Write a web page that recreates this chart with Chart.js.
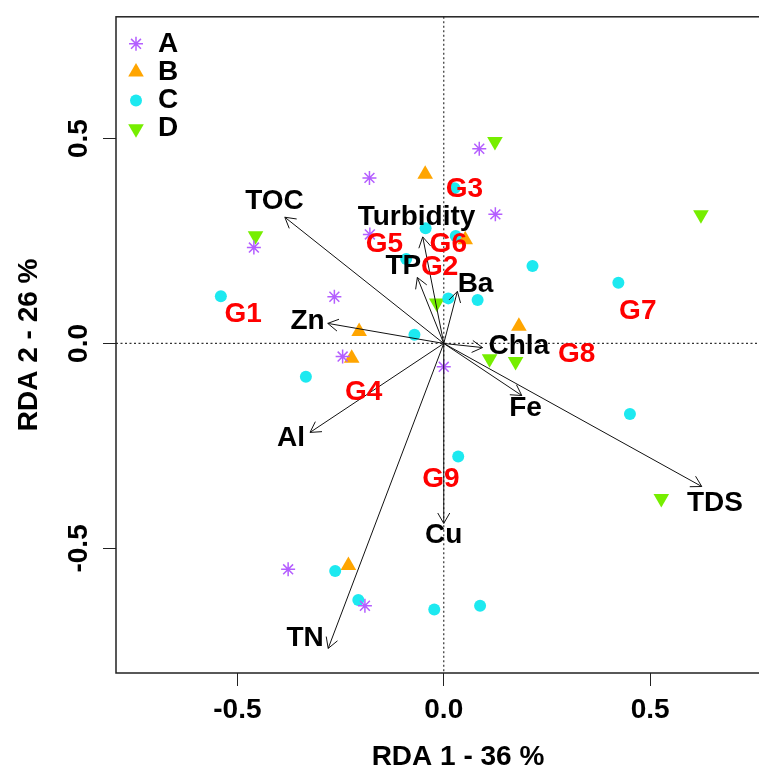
<!DOCTYPE html>
<html>
<head>
<meta charset="utf-8">
<script src="https://cdn.jsdelivr.net/npm/chart.js@4.4.1/dist/chart.umd.min.js"></script>
<style>
  html, body { margin: 0; padding: 0; background: #fff; overflow: hidden; }
  #wrap { width: 810px; height: 774px; }
</style>
</head>
<body>
<div id="wrap"><canvas id="rda" width="810" height="774"></canvas></div>
<script>
// site scores per group (RDA1, RDA2)
const groups = ['A', 'B', 'C', 'D'];
const aX = [0.086, -0.180, 0.125, -0.179, -0.460, -0.265, -0.245, 0.000, -0.377, -0.191];
const aY = [0.475, 0.404, 0.315, 0.266, 0.234, 0.114, -0.032, -0.057, -0.551, -0.640];
const bX = [-0.045, 0.052, -0.205, -0.223, 0.182, -0.231];
const bY = [0.413, 0.253, 0.029, -0.036, 0.042, -0.542];
const cX = [0.026, -0.044, 0.029, -0.091, 0.215, -0.540, 0.011, 0.082, -0.071, -0.334, 0.423, 0.451, 0.035, -0.263, -0.207, -0.023, 0.088];
const cY = [0.379, 0.281, 0.262, 0.206, 0.189, 0.115, 0.110, 0.106, 0.021, -0.081, 0.148, -0.172, -0.276, -0.555, -0.626, -0.649, -0.640];
const dX = [0.124, -0.456, -0.017, 0.111, 0.174, 0.623, 0.527];
const dY = [0.493, 0.263, 0.099, -0.037, -0.044, 0.314, -0.378];

// environmental arrows (tip) and where their names sit
const envNames = ['TOC', 'Zn', 'Turbidity', 'TP', 'Ba', 'Chla', 'Fe', 'TDS', 'Cu', 'TN', 'Al'];
const envX = [-0.385, -0.281, -0.051, -0.064, 0.033, 0.094, 0.189, 0.625, 0.000, -0.280, -0.324];
const envY = [0.308, 0.049, 0.260, 0.161, 0.127, -0.010, -0.127, -0.349, -0.439, -0.744, -0.217];
const envLabelX = [-0.410, -0.330, -0.066, -0.098, 0.077, 0.182, 0.198, 0.657, 0.000, -0.336, -0.370];
const envLabelY = [0.346, 0.054, 0.309, 0.189, 0.145, -0.006, -0.158, -0.391, -0.468, -0.720, -0.232];

// cluster labels
const clusterNames = ['G1', 'G2', 'G3', 'G4', 'G5', 'G6', 'G7', 'G8', 'G9'];
const clusterX = [-0.486, -0.010, 0.050, -0.194, -0.144, 0.011, 0.470, 0.322, -0.007];
const clusterY = [0.071, 0.185, 0.375, -0.118, 0.243, 0.243, 0.078, -0.027, -0.332];

const xTicks = [-0.5, 0, 0.5];
const yTicks = [-0.5, 0, 0.5];

const FONT = 'Liberation Sans, Arial, Helvetica, sans-serif';
Chart.defaults.font.family = FONT;

function pts(xs, ys) {
  return xs.map((v, i) => ({ x: v, y: ys[i] }));
}

function series(label, xs, ys, color, style, radius, rotation) {
  return {
    label,
    data: pts(xs, ys),
    pointStyle: style,
    pointRadius: radius,
    pointRotation: rotation,
    backgroundColor: color,
    borderColor: color,
    borderWidth: style === 'star' ? 1.5 : 0,
    pointHoverRadius: radius
  };
}

function marker(ctx, ds, x, y) {
  ctx.save();
  ctx.fillStyle = ds.backgroundColor;
  ctx.strokeStyle = ds.borderColor;
  ctx.lineWidth = ds.borderWidth;
  Chart.helpers.drawPoint(ctx, {
    pointStyle: ds.pointStyle,
    radius: ds.pointRadius,
    rotation: ds.pointRotation,
    borderWidth: ds.borderWidth
  }, x, y);
  ctx.restore();
}

const rdaOverlay = {
  id: 'rdaOverlay',
  beforeDatasetsDraw(chart) {
    const { ctx, chartArea: a, scales: { x, y } } = chart;
    const x0 = x.getPixelForValue(0), y0 = y.getPixelForValue(0);
    ctx.save();
    ctx.strokeStyle = '#333';
    ctx.lineWidth = 1.2;
    ctx.setLineDash([2, 2.5]);
    ctx.beginPath();
    ctx.moveTo(a.left, y0); ctx.lineTo(a.right, y0);
    ctx.moveTo(x0, a.top); ctx.lineTo(x0, a.bottom);
    ctx.stroke();
    ctx.restore();
  },
  afterDatasetsDraw(chart) {
    const { ctx, scales: { x, y } } = chart;
    const x0 = x.getPixelForValue(0), y0 = y.getPixelForValue(0);
    ctx.save();
    // arrows
    ctx.strokeStyle = '#111';
    ctx.lineWidth = 1;
    envNames.forEach((n, i) => {
      const tx = x.getPixelForValue(envX[i]), ty = y.getPixelForValue(envY[i]);
      const ang = Math.atan2(ty - y0, tx - x0);
      const head = 12;
      ctx.beginPath();
      ctx.moveTo(x0, y0);
      ctx.lineTo(tx, ty);
      ctx.moveTo(tx - head * Math.cos(ang - Math.PI / 6), ty - head * Math.sin(ang - Math.PI / 6));
      ctx.lineTo(tx, ty);
      ctx.lineTo(tx - head * Math.cos(ang + Math.PI / 6), ty - head * Math.sin(ang + Math.PI / 6));
      ctx.stroke();
    });
    ctx.font = 'bold 28px ' + FONT;
    ctx.textAlign = 'center';
    ctx.textBaseline = 'middle';
    ctx.fillStyle = '#000';
    envNames.forEach((n, i) => {
      ctx.fillText(n, x.getPixelForValue(envLabelX[i]), y.getPixelForValue(envLabelY[i]));
    });
    ctx.fillStyle = '#FF0000';
    clusterNames.forEach((n, i) => {
      ctx.fillText(n, x.getPixelForValue(clusterX[i]), y.getPixelForValue(clusterY[i]));
    });
    ctx.restore();
  },
  afterDraw(chart) {
    const { ctx, chartArea: a } = chart;
    ctx.save();
    // plot box
    ctx.strokeStyle = '#222';
    ctx.lineWidth = 1.5;
    ctx.strokeRect(a.left, a.top, a.right - a.left, a.bottom - a.top);
    // legend, top left inside the box
    ctx.font = 'bold 28px ' + FONT;
    ctx.textAlign = 'left';
    ctx.textBaseline = 'middle';
    chart.data.datasets.forEach((ds, i) => {
      const ry = a.top + 27 + i * 28.3;
      marker(ctx, ds, a.left + 20, ry);
      ctx.fillStyle = '#000';
      ctx.fillText(ds.label, a.left + 42, ry);
    });
    ctx.restore();
  }
};

const axisFont = { size: 28, weight: 'bold' };

new Chart(document.getElementById('rda'), {
  type: 'scatter',
  data: {
    datasets: [
      series(groups[0], aX, aY, '#B45EFF', 'star', 7, 0),
      series(groups[1], bX, bY, '#FFA500', 'triangle', 9, 0),
      series(groups[2], cX, cY, '#1DE9F0', 'circle', 6, 0),
      series(groups[3], dX, dY, '#76EE00', 'triangle', 9, 180)
    ]
  },
  options: {
    responsive: false,
    animation: false,
    devicePixelRatio: 1,
    layout: { padding: { top: 15, right: 10, left: 0, bottom: 0 } },
    plugins: { legend: { display: false }, tooltip: { enabled: false } },
    scales: {
      x: {
        type: 'linear',
        min: -0.794,
        max: 0.863,
        afterFit: s => { s.height = 101; },
        afterBuildTicks: s => { s.ticks = xTicks.map(v => ({ value: v })); },
        grid: { drawOnChartArea: false, tickLength: 13, color: '#222', lineWidth: 1 },
        border: { display: false },
        ticks: {
          font: axisFont, color: '#000', padding: 7, maxRotation: 0, autoSkip: false,
          callback: v => v.toFixed(1)
        },
        title: { display: true, text: 'RDA 1 - 36 %', font: axisFont, color: '#000', padding: { top: 0, bottom: 0 } }
      },
      y: {
        type: 'linear',
        min: -0.804,
        max: 0.797,
        afterFit: s => { s.width = 116; },
        afterBuildTicks: s => { s.ticks = yTicks.map(v => ({ value: v })); },
        grid: { drawOnChartArea: false, tickLength: 13, color: '#222', lineWidth: 1 },
        border: { display: false },
        ticks: {
          font: axisFont, color: '#000', padding: 0, minRotation: 90, maxRotation: 90,
          crossAlign: 'center', autoSkip: false,
          callback: v => v.toFixed(1)
        },
        title: { display: true, text: 'RDA 2 - 26 %', font: axisFont, color: '#000', padding: { top: 12, bottom: 0 } }
      }
    }
  },
  plugins: [rdaOverlay]
});
</script>
</body>
</html>
